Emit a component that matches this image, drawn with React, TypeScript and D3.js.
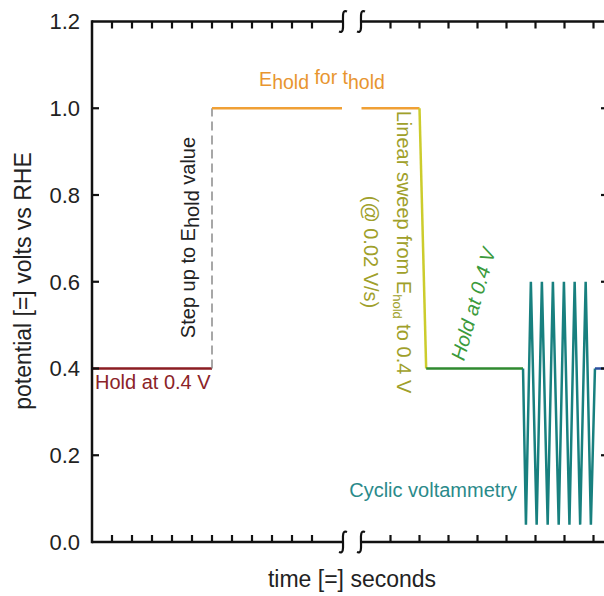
import React from 'react';
import * as d3 from 'd3';

// ---- data ----
const yTicks = [0, 0.2, 0.4, 0.6, 0.8, 1.0, 1.2];
const yInnerTicks = [0.2, 0.4, 0.6, 0.8, 1.0];
const leftTicks = [1, 2, 3, 4, 5, 6, 7, 8, 9, 10, 11];
const rightTicks = [1, 2, 3, 4, 5, 6, 7, 8];

// time values are in tick units of the left / right part of the broken axis
const holdStartT = [0, 6];
const holdStartV = [0.4, 0.4];
const stepT = [6, 6];
const stepV = [0.4, 1.0];
const holdHighLT = [6, 12.5];
const holdHighLV = [1.0, 1.0];
const holdHighRT = [0, 2.0];
const holdHighRV = [1.0, 1.0];
const sweepT = [2.0, 2.23];
const sweepV = [1.0, 0.4];
const hold2T = [2.23, 5.57];
const hold2V = [0.4, 0.4];
const cvT = [5.57, 5.67, 5.84, 6.04, 6.22, 6.42, 6.6, 6.8, 6.98, 7.17, 7.35, 7.54, 7.73, 7.91, 8.05];
const cvV = [0.4, 0.04, 0.6, 0.04, 0.6, 0.04, 0.6, 0.04, 0.6, 0.04, 0.6, 0.04, 0.6, 0.04, 0.4];
const holdEndT = [8.05, 8.6];
const holdEndV = [0.4, 0.4];

const W = 604;
const H = 596;
const FONT = 'Liberation Sans, Arial, Helvetica, sans-serif';

export default function App() {
  const xL = d3.scaleLinear().domain([0, 12.5]).range([92, 342]);
  const xR = d3.scaleLinear().domain([0, 8.5]).range([361.5, 608]);
  const y = d3.scaleLinear().domain([0, 1.2]).range([542, 21.5]);

  const lineL = (ts: number[], vs: number[]) =>
    d3.line<number>().x((_, i) => xL(ts[i])).y((_, i) => y(vs[i]))(ts) || '';
  const lineR = (ts: number[], vs: number[]) =>
    d3.line<number>().x((_, i) => xR(ts[i])).y((_, i) => y(vs[i]))(ts) || '';

  const top = y(1.2);
  const bot = y(0);
  const left = xL(0);
  const rightAxis = 608;
  const brk1 = 342;
  const brk2 = 362;

  const squiggle = (cx: number, cy: number) =>
    `M ${cx + 4} ${cy - 10} C ${cx - 1} ${cy - 12} ${cx} ${cy - 5} ${cx} ${cy} C ${cx} ${cy + 5} ${cx + 1} ${cy + 12} ${cx - 4} ${cy + 10}`;

  const tickLen = 7;

  return (
    <svg width={W} height={H} style={{ position: 'absolute', left: 0, top: 0, background: '#fff' }} fontFamily={FONT}>
      <rect x={0} y={0} width={W} height={H} fill="#fff" />

      {/* data lines */}
      <path d={lineL(holdStartT, holdStartV)} stroke="#8b1d22" strokeWidth={2.5} fill="none" />
      <path d={lineL(stepT, stepV)} stroke="#8a8a8a" strokeWidth={1.5} strokeDasharray="9,5" fill="none" />
      <path d={lineL(holdHighLT, holdHighLV)} stroke="#f0a035" strokeWidth={2.5} fill="none" />
      <path d={lineR(holdHighRT, holdHighRV)} stroke="#f0a035" strokeWidth={2.5} fill="none" />
      <path d={lineR(sweepT, sweepV)} stroke="#cccc2c" strokeWidth={2.5} fill="none" />
      <path d={lineR(hold2T, hold2V)} stroke="#2f8a2f" strokeWidth={2.5} fill="none" />
      <path d={lineR(cvT, cvV)} stroke="#18807f" strokeWidth={2.5} fill="none" strokeLinejoin="bevel" />
      <path d={lineR(holdEndT, holdEndV)} stroke="#2b4f9e" strokeWidth={2.5} fill="none" />

      {/* frame */}
      <g stroke="#111" strokeWidth={2.5} fill="none">
        <line x1={left} y1={top - 1.2} x2={left} y2={bot + 1.2} />
        <line x1={left} y1={top} x2={brk1} y2={top} />
        <line x1={brk2} y1={top} x2={W + 10} y2={top} />
        <line x1={left} y1={bot} x2={brk1} y2={bot} />
        <line x1={brk2} y1={bot} x2={W + 10} y2={bot} />
        <line x1={rightAxis} y1={top} x2={rightAxis} y2={bot} />
        <path d={squiggle(brk1 + 1, top)} strokeWidth={2.2} />
        <path d={squiggle(brk2 - 1, top)} strokeWidth={2.2} />
        <path d={squiggle(brk1 + 1, bot)} strokeWidth={2.2} />
        <path d={squiggle(brk2 - 1, bot)} strokeWidth={2.2} />
      </g>

      {/* ticks */}
      <g stroke="#111" strokeWidth={2.2}>
        {yInnerTicks.map((v) => (
          <line key={'yl' + v} x1={left} x2={left + tickLen} y1={y(v)} y2={y(v)} />
        ))}
        {yInnerTicks.map((v) => (
          <line key={'yr' + v} x1={rightAxis} x2={rightAxis - tickLen} y1={y(v)} y2={y(v)} />
        ))}
        {leftTicks.map((t) => (
          <g key={'lt' + t}>
            <line x1={xL(t)} x2={xL(t)} y1={top} y2={top + tickLen} />
            <line x1={xL(t)} x2={xL(t)} y1={bot} y2={bot - tickLen} />
          </g>
        ))}
        {rightTicks.map((t) => (
          <g key={'rt' + t}>
            <line x1={xR(t)} x2={xR(t)} y1={top} y2={top + tickLen} />
            <line x1={xR(t)} x2={xR(t)} y1={bot} y2={bot - tickLen} />
          </g>
        ))}
      </g>

      {/* y tick labels */}
      <g fontSize={22} fill="#222" textAnchor="end">
        {yTicks.map((v) => (
          <text key={'yt' + v} x={80} y={y(v)} dy="0.36em">
            {d3.format('.1f')(v)}
          </text>
        ))}
      </g>

      {/* axis titles */}
      <text x={352} y={587} fontSize={23} fill="#222" textAnchor="middle">
        time [=] seconds
      </text>
      <text transform={`translate(31,281) rotate(-90)`} fontSize={23} fill="#222" textAnchor="middle">
        potential [=] volts vs RHE
      </text>

      {/* annotations */}
      <text x={95} y={389} fontSize={20} fill="#8b2328">
        Hold at 0.4 V
      </text>
      <text transform={`translate(194.5,237.5) rotate(-90)`} fontSize={20} fill="#222" textAnchor="middle">
        Step up to E<tspan dy={4}>hold</tspan>
        <tspan dy={-4}> value</tspan>
      </text>
      <text x={322} y={86} fontSize={19.5} fill="#e8952f" textAnchor="middle">
        E<tspan dy={3}>hold</tspan>
        <tspan dy={-5}> for t</tspan>
        <tspan dy={5}>hold</tspan>
      </text>
      <g transform={`translate(397,252) rotate(90)`} fill="#a0a02a" fontSize={20} textAnchor="middle">
        <text x={0} y={0}>
          Linear sweep from E<tspan dy={4} fontSize={13}>hold</tspan>
          <tspan dy={-4}> to 0.4 V</tspan>
        </text>
        <text x={0} y={33}>(@ 0.02 V/s)</text>
      </g>
      <text transform={`translate(480,306) rotate(-74)`} fontSize={20} fill="#3b9a3b" fontStyle="italic" textAnchor="middle">
        Hold at 0.4 V
      </text>
      <text x={517} y={497} fontSize={20} fill="#2a8a8a" textAnchor="end">
        Cyclic voltammetry
      </text>
    </svg>
  );
}
